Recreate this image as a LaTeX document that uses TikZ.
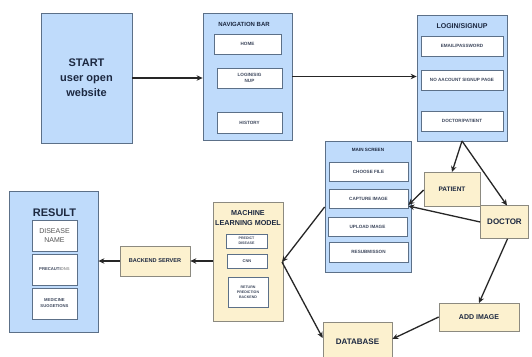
\documentclass[tikz,border=0pt]{standalone}
\usepackage{fontspec}
\setmainfont{Liberation Sans}
\usetikzlibrary{arrows.meta}
\definecolor{bfill}{HTML}{BFDBFB}
\definecolor{bbord}{HTML}{5C7088}
\definecolor{yfill}{HTML}{FCF1CF}
\definecolor{ybord}{HTML}{8C8A80}
\definecolor{txt}{HTML}{1C2840}
\definecolor{gtxt}{HTML}{555555}
\tikzset{
  bluebox/.style={draw=bbord, fill=bfill, line width=0.8pt, inner sep=0pt},
  yelbox/.style={draw=ybord, fill=yfill, line width=0.7pt, inner sep=0pt, font=\bfseries, text=txt, align=center},
  inbox/.style={draw=bbord, fill=white, line width=0.7pt, inner sep=0pt, font=\bfseries\fontsize{4.6}{5.6}\selectfont, text=txt!85, align=center},
  ttl/.style={font=\bfseries, text=txt, align=center, inner sep=0pt},
  arr/.style={-{Stealth[length=6pt,width=5.5pt]}, line width=1.3pt, black!85},
}
\begin{document}
\begin{tikzpicture}[x=1pt,y=-1pt]
\useasboundingbox (0,0) rectangle (532,356);
\fill[white] (0,0) rectangle (532,356);
% START
\node[bluebox, minimum width=91pt, minimum height=130pt, font=\bfseries\fontsize{11}{15}\selectfont, text=txt, align=center] (start) at (86.5,78) {START\\user open\\website};
% NAV
\node[bluebox, minimum width=89pt, minimum height=127pt] (nav) at (247.5,76.5) {};
\node[ttl, font=\bfseries\fontsize{6}{7}\selectfont] (navt) at (244,24) {NAVIGATION BAR};
\node[inbox, minimum width=67pt, minimum height=20pt] (home) at (247.5,44) {HOME};
\node[inbox, minimum width=65pt, minimum height=20pt] (nlog) at (249.5,78) {LOGIN/SIG\\NUP};
\node[inbox, minimum width=65pt, minimum height=21pt] (hist) at (249.5,122.5) {HISTORY};
% LOGIN
\node[bluebox, minimum width=90pt, minimum height=126pt] (login) at (462,78) {};
\node[ttl, font=\bfseries\fontsize{7}{8}\selectfont] (logt) at (462,26) {LOGIN/SIGNUP};
\node[inbox, minimum width=82pt, minimum height=20pt] (email) at (462,46) {EMAIL/PASSWORD};
\node[inbox, minimum width=82pt, minimum height=20pt] (noacc) at (462,80) {NO AACOUNT SIGNUP PAGE};
\node[inbox, minimum width=82pt, minimum height=20pt] (docpat) at (462,121) {DOCTOR/PATIENT};
% PATIENT / DOCTOR
\node[yelbox, minimum width=56pt, minimum height=34pt, font=\bfseries\fontsize{6.5}{8}\selectfont] (patient) at (452,189) {PATIENT};
\node[yelbox, minimum width=48pt, minimum height=33pt, font=\bfseries\fontsize{8}{9}\selectfont] (doctor) at (504.5,222) {DOCTOR};
% MAIN SCREEN
\node[bluebox, minimum width=86pt, minimum height=131pt] (main) at (368,206.5) {};
\node[ttl, font=\bfseries\fontsize{4.6}{5.5}\selectfont] (maint) at (368,150) {MAIN SCREEN};
\node[inbox, minimum width=79pt, minimum height=19pt] (choose) at (368.5,171.5) {CHOOSE FILE};
\node[inbox, minimum width=79pt, minimum height=19pt] (capture) at (368.5,198.5) {CAPTURE IMAGE};
\node[inbox, minimum width=79pt, minimum height=19pt] (upload) at (367.5,226.5) {UPLOAD IMAGE};
\node[inbox, minimum width=79pt, minimum height=20pt] (resub) at (368.5,252) {RESUBMISSON};
% ML
\node[yelbox, minimum width=70pt, minimum height=119pt] (ml) at (248,261.5) {};
\node[ttl, font=\bfseries\fontsize{7.2}{10}\selectfont] (mlt) at (248,218) {MACHINE\\LEARNING MODEL};
\node[inbox, minimum width=41pt, minimum height=14pt, font=\bfseries\fontsize{3.6}{4.6}\selectfont] (predict) at (246.5,241) {PREDICT\\DISEASE};
\node[inbox, minimum width=40pt, minimum height=14pt, font=\bfseries\fontsize{4}{5}\selectfont] (cnn) at (247,261) {CNN};
\node[inbox, minimum width=40pt, minimum height=30pt, font=\bfseries\fontsize{3.6}{5}\selectfont] (ret) at (248,292) {RETURN\\PREDICTION\\BACKEND};
% BACKEND
\node[yelbox, minimum width=70pt, minimum height=30pt, font=\bfseries\fontsize{5.6}{7}\selectfont] (backend) at (155,261) {BACKEND SERVER};
% RESULT
\node[bluebox, minimum width=89pt, minimum height=141pt] (result) at (53.5,261.5) {};
\node[ttl, font=\bfseries\fontsize{11}{12}\selectfont] (rest) at (54.5,213) {RESULT};
\node[inbox, minimum width=45pt, minimum height=31pt, font=\fontsize{7}{9}\selectfont, text=gtxt] (disease) at (54.5,235.5) {DISEASE\\NAME};
\node[inbox, minimum width=45pt, minimum height=31pt, font=\bfseries\fontsize{4.2}{5}\selectfont] (prec) at (54.5,269.5) {PRECAUTI\textcolor{gtxt!60}{ONS}};
\node[inbox, minimum width=45pt, minimum height=31pt, font=\bfseries\fontsize{4.2}{6}\selectfont] (med) at (54.5,303.5) {MEDICINE\\SUGGETIONS};
% DATABASE / ADD IMAGE
\node[yelbox, minimum width=69pt, minimum height=40pt, font=\bfseries\fontsize{8}{9}\selectfont] (db) at (357.5,342) {DATABASE};
\node[yelbox, minimum width=80pt, minimum height=28pt, font=\bfseries\fontsize{7}{8}\selectfont] (addimg) at (479,317) {ADD IMAGE};
% coordinates for arrow ends
\coordinate (lb) at (462,141);
\coordinate (mlr) at (282,262);
% arrows
\draw[arr] (start.east) -- (nav.west |- start.east);
\draw[arr] (nav.east) -- (login.west |- nav.east);
\draw[arr] (lb) -- (452,172);
\draw[arr] (lb) -- (507,205.5);
\draw[arr] (patient.west |- 0,190) -- (capture.east |- 0,205);
\draw[arr] (doctor.west) -- (capture.east |- 0,206);
\draw[arr] (main.west |- 0,207) -- (mlr);
\draw[arr] (mlr) -- (db.west |- 0,338);
\draw[arr] (ml.west |- 0,261) -- (backend.east);
\draw[arr] (backend.west) -- (result.east |- backend.west);
\draw[arr] (doctor.south) ++(3,0) -- (479,303);
\draw[arr] (addimg.west) -- (db.east |- 0,339);
\end{tikzpicture}
\end{document}
